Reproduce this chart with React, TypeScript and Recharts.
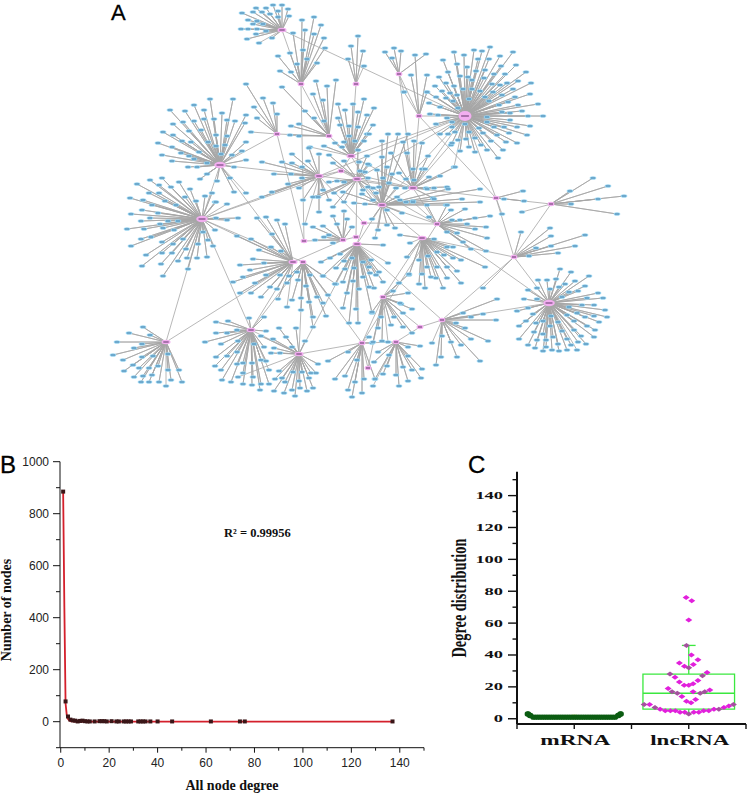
import React from "react";
import { ComposedChart, ScatterChart, Scatter, Line, XAxis, YAxis, ReferenceArea, ReferenceLine } from "recharts";

type P = [number, number];

// ---------- Panel A: network layout ----------
const hubs: Record<string, P> = {
  a: [282, 30], b: [301, 84], c: [356, 84], d: [399, 74], e: [419, 116], f: [465, 116], g: [220, 165], h: [277, 134],
  i: [329, 136], j: [351, 156], k: [319, 176], l: [341, 171], m: [357, 179], n: [413, 188], o: [382, 205], p: [496, 198],
  q: [551, 204], r: [202, 219], s: [166, 342], t: [251, 330], u: [299, 354], v: [293, 262], w: [303, 262], x: [304, 241],
  y: [343, 240], z: [356, 237], A: [357, 244], B: [364, 223], C: [362, 343], D: [368, 368], E: [437, 224], F: [422, 238],
  G: [514, 257], H: [549, 303], I: [442, 320], J: [420, 327], K: [383, 297], L: [396, 342],
};

const leavesA: P[] = [[282,5],[273,5],[256,8],[266,8],[288,9],[278,11],[242,13],[253,12],[262,12],[270,14],[289,16],[278,17],[248,20],[257,21],[263,24],[253,24],[241,29],[248,29],[257,29],[266,31],[247,39],[256,34],[272,38],[259,43]];
const leavesB: P[] = [[314,17],[302,20],[321,25],[293,33],[305,30],[314,34],[324,38],[325,48],[303,50],[290,53],[278,56],[307,59],[317,63],[297,64],[280,71],[291,72]];
const leavesC: P[] = [[358,36],[351,46],[363,51],[348,59],[364,66]];
const leavesD: P[] = [[385,52],[394,48],[401,51],[392,58],[426,54],[404,92]];
const leavesE: P[] = [[415,55],[411,75],[427,75],[427,92],[404,92]];
const leavesF: P[] = [[490,47],[474,50],[482,51],[454,52],[464,55],[513,52],[500,56],[443,60],[478,59],[489,59],[457,64],[501,66],[516,65],[467,67],[485,70],[476,71],[448,72],[494,74],[505,74],[526,72],[439,77],[460,76],[468,77],[484,78],[446,83],[472,80],[518,81],[531,83],[492,84],[500,85],[507,83],[454,86],[435,86],[463,89],[472,89],[513,89],[442,91],[450,93],[457,95],[480,91],[493,92],[502,95],[530,94],[427,92],[436,97],[446,98],[469,99],[485,97],[515,97],[453,101],[489,101],[499,105],[508,102],[538,104],[429,103],[440,107],[518,105],[458,108],[502,112],[522,111],[430,114],[438,115],[447,118],[487,117],[510,113],[528,116],[543,116],[510,120],[452,122],[436,124],[487,122],[494,127],[504,127],[517,127],[530,126],[465,124],[452,127],[479,128],[440,134],[448,134],[455,132],[469,132],[483,133],[497,135],[509,133],[527,135],[475,138],[458,140],[491,141],[466,139],[506,142],[517,143],[451,145],[481,145],[469,147],[487,150],[460,151],[503,150],[475,152],[498,158],[454,167]];
const leavesG: P[] = [[210,99],[233,99],[170,110],[185,111],[194,105],[204,110],[222,113],[214,119],[204,119],[194,121],[183,122],[173,124],[235,121],[245,123],[246,115],[227,120],[163,132],[173,135],[189,131],[201,130],[216,135],[227,136],[182,141],[191,142],[208,142],[158,143],[172,147],[181,153],[189,156],[199,152],[216,146],[225,145],[246,142],[242,151],[232,155],[221,154],[162,155],[172,161],[194,159],[246,160],[188,167],[197,167],[207,163],[234,167],[207,174],[200,179],[217,181],[230,178],[234,192],[246,193]];
const leavesH: P[] = [[246,84],[263,98],[273,103],[254,107],[277,114],[257,118],[251,132]];
const leavesI: P[] = [[282,87],[316,81],[327,86],[336,80],[313,94],[323,100],[305,111],[314,118],[324,121],[291,126],[299,124],[290,135],[299,136]];
const leavesJ: P[] = [[338,104],[345,110],[353,104],[364,99],[374,108],[367,115],[338,118],[358,112],[340,125],[349,126],[358,127],[373,125],[355,141],[344,142],[367,134],[335,143],[324,146],[342,147],[364,141],[369,134],[349,136],[310,147]];
const leavesK: P[] = [[309,148],[319,154],[292,154],[282,162],[292,163],[262,162],[274,174],[291,174],[302,178],[288,184],[299,188],[272,192],[262,197],[303,200],[308,161],[302,167],[323,190],[318,197],[329,200],[319,212],[305,224]];
const leavesM: P[] = [[329,155],[358,150],[367,156],[329,182],[337,181],[344,182],[334,193],[344,202],[333,207],[313,197],[318,197],[363,190],[373,188],[369,165],[365,172],[373,200],[368,164],[359,162],[344,161],[333,163],[368,178],[360,171]];
const leavesN: P[] = [[407,153],[428,156],[391,153],[414,141],[422,143],[403,142],[413,169],[422,169],[429,177],[440,176],[414,180],[426,188],[434,188],[405,188],[399,173],[406,179],[433,198],[427,189],[447,187],[455,167],[425,169],[452,143]];
const leavesO: P[] = [[388,134],[398,134],[408,134],[382,141],[382,157],[387,167],[392,174],[377,170],[383,178],[389,183],[379,187],[396,188],[397,197],[406,202],[413,201],[434,199],[446,205],[462,199],[480,202],[448,189],[480,189],[343,192],[362,194],[368,187],[354,203],[365,204],[372,219],[378,230],[387,225],[395,228],[387,210],[402,213],[400,200],[376,193],[375,238]];
const leavesP: P[] = [[523,191],[524,201],[504,199],[502,214]];
const leavesQ: P[] = [[593,178],[608,186],[624,196],[570,191],[598,199],[571,204],[617,214],[522,212]];
const leavesR: P[] = [[162,178],[150,180],[137,184],[159,185],[179,182],[171,187],[149,193],[159,193],[190,189],[185,197],[130,198],[143,200],[165,201],[196,201],[205,196],[212,193],[176,205],[131,214],[142,210],[152,205],[158,213],[141,221],[150,218],[168,221],[160,224],[178,221],[127,229],[144,229],[163,228],[174,230],[141,239],[151,237],[131,246],[162,242],[183,239],[173,244],[186,249],[146,255],[162,253],[172,253],[187,258],[178,261],[197,258],[207,257],[142,266],[161,264],[188,269],[163,276],[198,244],[208,240],[213,246],[203,232],[215,230],[216,218],[227,220],[238,218],[215,202],[216,202],[227,204]];
const leavesS: P[] = [[143,327],[129,333],[150,335],[117,342],[142,344],[134,348],[113,355],[168,354],[142,357],[153,356],[123,360],[133,365],[158,366],[124,371],[139,368],[149,368],[168,370],[179,370],[143,376],[134,377],[152,375],[141,382],[149,382],[159,382],[171,380],[182,382],[166,386]];
const leavesT: P[] = [[216,322],[228,321],[216,333],[227,333],[237,330],[205,342],[221,344],[238,341],[249,318],[264,317],[266,331],[254,344],[264,347],[237,352],[227,356],[216,357],[215,366],[221,370],[237,364],[243,363],[252,363],[261,360],[266,361],[222,380],[231,382],[243,384],[243,373],[253,377],[252,385],[261,384],[260,390],[269,384],[269,370]];
const leavesU: P[] = [[279,328],[296,328],[286,337],[273,339],[305,341],[261,336],[274,348],[292,347],[280,353],[271,353],[318,364],[279,371],[293,372],[302,372],[311,373],[316,373],[275,379],[282,378],[309,378],[285,382],[299,381],[300,388],[274,391],[284,393],[292,390],[307,391],[313,388],[295,396],[238,377]];
const leavesV: P[] = [[257,218],[266,217],[277,220],[272,234],[285,224],[237,236],[251,239],[259,250],[271,247],[281,251],[253,259],[240,265],[264,263],[250,270],[243,277],[233,282],[255,283],[266,275],[280,275],[270,287],[277,289],[240,293],[251,293],[261,297],[278,299],[287,307]];
const leavesW: P[] = [[289,276],[287,283],[292,300],[301,298],[309,302],[301,310],[313,317],[306,286],[298,280],[317,297],[328,295],[323,303],[326,316],[313,327],[297,272],[310,275],[323,276],[336,284]];
const leavesY: P[] = [[333,216],[344,211],[313,227],[323,226],[337,224],[347,219],[352,227],[329,235],[315,240],[324,237],[333,243]];
const leavesAA: P[] = [[343,308],[356,309],[349,323],[358,323],[347,293],[359,289],[369,287],[343,282],[353,281],[363,277],[345,269],[354,268],[336,268],[344,261],[352,258],[363,262],[371,260],[369,267],[376,275],[374,288],[372,313],[383,245],[321,262],[330,258],[340,254],[323,276],[335,284],[370,273],[379,272],[383,282],[388,263]];
const leavesCC: P[] = [[348,352],[328,361],[357,360],[345,376],[335,379],[355,382],[348,390],[362,393],[352,397],[364,379],[375,379],[372,343],[369,337]];
const leavesE2: P[] = [[447,205],[451,210],[460,220],[465,209],[475,218],[490,216],[467,224],[486,227],[475,229],[487,238],[463,242],[471,249],[486,251],[447,232],[452,220],[457,233],[429,217],[427,205],[413,202]];
const leavesF2: P[] = [[407,257],[419,260],[428,256],[437,252],[444,255],[453,258],[461,260],[427,267],[437,267],[447,267],[457,271],[422,274],[409,275],[431,277],[436,278],[447,278],[461,283],[419,284],[425,288],[443,288],[434,239],[447,247],[453,247],[485,267],[400,235],[410,243]];
const leavesG2: P[] = [[585,235],[575,246],[551,246],[536,248],[558,253],[529,256],[521,232],[550,228],[551,236],[483,288]];
const leavesH2: P[] = [[560,269],[571,272],[589,276],[538,280],[547,280],[556,279],[565,284],[575,281],[585,286],[528,290],[537,288],[550,289],[559,287],[569,292],[578,291],[598,293],[524,299],[537,299],[562,297],[587,298],[603,298],[528,308],[517,311],[533,314],[569,307],[582,305],[594,305],[605,310],[577,313],[551,316],[585,317],[594,316],[607,317],[526,321],[543,321],[558,322],[567,315],[574,321],[599,322],[519,326],[536,323],[550,326],[587,326],[534,332],[543,334],[562,331],[574,330],[595,330],[581,336],[519,339],[537,340],[553,337],[567,339],[578,342],[594,337],[528,345],[546,340],[558,344],[571,345],[586,344],[535,348],[546,347],[543,351],[552,350],[559,351],[567,350],[577,350]];
const leavesI2: P[] = [[497,299],[483,314],[471,317],[463,313],[456,323],[465,328],[496,320],[471,339],[488,341],[461,345],[451,342],[442,336],[457,357],[441,357],[480,361],[436,365],[432,343]];
const leavesK2: P[] = [[399,283],[408,293],[393,291],[401,304],[412,309],[394,317],[403,313],[391,325],[381,317],[403,327],[412,333],[382,341],[373,342],[400,303],[372,312],[409,274],[378,328],[388,342]];
const leavesL2: P[] = [[420,346],[408,347],[389,355],[408,356],[378,352],[374,362],[387,366],[403,367],[412,370],[422,369],[396,375],[421,378],[383,374],[408,381],[375,379],[399,386],[373,386]];

const stars: [string, P[]][] = [
  ["a", leavesA], ["b", leavesB], ["c", leavesC], ["d", leavesD], ["e", leavesE], ["f", leavesF], ["g", leavesG], ["h", leavesH],
  ["i", leavesI], ["j", leavesJ], ["k", leavesK], ["m", leavesM], ["n", leavesN], ["o", leavesO], ["p", leavesP], ["q", leavesQ],
  ["r", leavesR], ["s", leavesS], ["t", leavesT], ["u", leavesU], ["v", leavesV], ["w", leavesW], ["y", leavesY], ["A", leavesAA], ["C", leavesCC],
  ["E", leavesE2], ["F", leavesF2], ["G", leavesG2], ["H", leavesH2], ["I", leavesI2], ["K", leavesK2], ["L", leavesL2],
];

const crossEdges = ["af","ab","bx","bi","cj","dn","de","ef","en","fn","fo","fm","fk","fp","ep","pG","qp","qG","GH","EH","FG","GI","IH","AI","JI","LJ","KJ","wC","vt","wt","vs","rs","gv","rv","rw","rt","rk","rl","gk","gh","gr","ut","uC","uw","uA","CK","CL","CE","DC","DK","xh","xy","yz","yv","BE","BA","Bk","oE","oF","oA","om","no","nE","nm","np","nj","kl","lm","jl","ij","ih","kn","FK","zm","fj","ln","mE","jo"];

// ---------- Panel B ----------
const degreeX = [1,2,3,4,5,6,7,8,9,10,11,12,14,16,17,18,19,21,23,24,26,27,28,29,32,33,34,35,37,40,46,62,74,76,137];
const nodeCount = [885,78,20,8,5,4,1,3,4,2,1,1,1,2,2,2,1,2,1,1,1,1,1,1,1,1,1,1,1,1,1,1,1,1,1];
const fitX = [1,1.5,2,2.5,3,3.5,4,5,7,20,137];
const fitY = [885,440,70,25,10,5,2,1,0,0,0];
const bTicksX = [0,10,20,30,40,50,60,70,80,90,100,110,120,130,140,150];
const bTicksY = [-100,0,100,200,300,400,500,600,700,800,900,1000];
const bPoints = degreeX.map((x, i) => ({ x, y: nodeCount[i] }));
const bFit = fitX.map((x, i) => ({ x, y: fitY[i] }));

// ---------- Panel C ----------
const cTicksY = [0,10,20,30,40,50,60,70,80,90,100,110,120,130,140,150];
const cTicksX = [0.5,1,1.5,2,2.5];
const mrnaX = [0.59,0.6,0.61,0.62,0.64,0.66,0.68,0.7,0.72,0.74,0.76,0.78,0.8,0.82,0.84,0.86,0.88,0.9,0.92,0.94,0.96,0.98,1,1.02,1.04,1.06,1.08,1.1,1.12,1.14,1.16,1.18,1.2,1.22,1.24,1.26,1.28,1.3,1.32,1.34,1.36,1.38,1.39,1.4,1.41];
const mrnaY = [3,3,2,2,1,1,1,1,1,1,1,1,1,1,1,1,1,1,1,1,1,1,1,1,1,1,1,1,1,1,1,1,1,1,1,1,1,1,1,1,1,2,2,3,3];
const lncBright: P[] = [[1.977,76],[2.026,74],[2,62],[2.023,40],[2.08,37],[1.918,35],[1.962,33],[2.04,34],[2.16,29],[1.88,26],[2.08,24],[1.918,23],[2.038,22],[1.96,21],[2,21],[1.82,19],[2.184,18],[2.038,17],[1.94,14],[2.06,12],[1.98,11],[2.02,10],[1.658,9],[2.35,8],[2.307,7],[2.22,6],[1.75,6],[1.795,5],[1.84,5],[1.883,5],[1.924,4],[1.965,4],[2.044,4],[2.088,4],[2.13,5],[2.175,5]];
const lncMuted: P[] = [[1.98,46],[2,32],[1.836,28],[2.12,27],[1.854,17],[2.14,17],[1.9,16],[2.1,16],[1.61,9],[2.39,9],[1.705,7],[2.263,6],[2,3]];
const lncBox = { q1: 6, median: 16, q3: 28, low: 3, high: 46, left: 1.6, right: 2.4, capLeft: 1.94, capRight: 2.06 };
const mrnaBox = { q1: 1, q3: 2.2, left: 0.98, right: 1.02 };

const serif = "'Liberation Serif', serif";
const sans = "'Liberation Sans', sans-serif";
const nodeLeaf = (p: any) => (
  <g>
    <ellipse cx={p.cx} cy={p.cy} rx={3.3} ry={1.8} fill="#98d3ef" />
    <rect x={p.cx - 2.1} y={p.cy - 0.55} width={4.2} height={1.1} fill="#4a87b0" />
  </g>
);
const hubShape = (p: any) => {
  const n = p.payload.n;
  const rx = n > 80 ? 6.5 : n > 45 ? 5.8 : n > 20 ? 4.5 : 3.4;
  const ry = n > 80 ? 5 : n > 45 ? 3.2 : 2.2;
  return (
    <g>
      <ellipse cx={p.cx} cy={p.cy} rx={rx} ry={ry} fill="#f2aef0" />
      <rect x={p.cx - rx * 0.6} y={p.cy - 0.6} width={rx * 1.2} height={1.2} fill="#7a4a80" />
    </g>
  );
};
const noMark = () => <g />;
const toPt = ([x, y]: P) => ({ x, y });
const edgeLine = { stroke: "#a6a6a6", strokeWidth: 0.8, strokeLinejoin: "round" as const, strokeLinecap: "round" as const };

const starData = (hub: P, leaves: P[]) => leaves.flatMap((l) => [toPt(hub), toPt(l)]);
const allLeaves = stars.flatMap(([, l]) => l).map(toPt);
const hubPoints = Object.entries(hubs).map(([k, h]) => ({ x: h[0], y: h[1], n: (stars.find((s) => s[0] === k)?.[1] ?? []).length }));

const BTickX = ({ x, y, payload }: any) => {
  const major = payload.value % 20 === 0;
  return (
    <g>
      <line x1={x} x2={x} y1={y} y2={y + (major ? 5 : 3)} stroke="#111" strokeWidth={1} />
      {major && payload.value <= 140 ? (
        <text x={x} y={y + 19} textAnchor="middle" fontFamily={sans} fontSize={12} fill="#222">{payload.value}</text>
      ) : null}
    </g>
  );
};
const BTickY = ({ x, y, payload }: any) => {
  const major = payload.value % 200 === 0;
  return (
    <g>
      <line x1={x} x2={x - (major ? 7 : 4)} y1={y} y2={y} stroke="#111" strokeWidth={1} />
      {major ? (
        <text x={x - 11} y={y + 4} textAnchor="end" fontFamily={sans} fontSize={12} fill="#222">{payload.value}</text>
      ) : null}
    </g>
  );
};
const CTickY = ({ x, y, payload }: any) => {
  const major = payload.value % 20 === 0;
  const s = String(payload.value);
  return (
    <g>
      <line x1={x} x2={x - (major ? 9 : 4.5)} y1={y} y2={y} stroke="#111" strokeWidth={1.4} />
      {major && payload.value < 150 ? (
        <text x={x - 14 - s.length * 9.2} y={y + 3.5} fontFamily={serif} fontWeight="bold" fontSize={10.5} fill="#111" textLength={s.length * 9.2} lengthAdjust="spacingAndGlyphs">{s}</text>
      ) : null}
    </g>
  );
};
const CTickX = ({ x, y, payload }: any) => {
  const label = payload.value === 1 ? "mRNA" : payload.value === 2 ? "lncRNA" : "";
  const w = payload.value === 1 ? 70 : 79;
  return (
    <g>
      <line x1={x} x2={x} y1={y} y2={y + 5} stroke="#111" strokeWidth={1.4} />
      {label ? (
        <text x={x - w / 2 + 1} y={y + 21} fontFamily={serif} fontWeight="bold" fontSize={15} fill="#111" textLength={w} lengthAdjust="spacingAndGlyphs">{label}</text>
      ) : null}
    </g>
  );
};
const abs = (left: number, top: number): React.CSSProperties => ({ position: "absolute", left, top });
const Letter = ({ x, y, t, size = 24 }: { x: number; y: number; t: string; size?: number }) => (
  <div style={{ ...abs(x, y), fontFamily: sans, fontSize: size, lineHeight: "normal", color: "#000", WebkitTextStroke: "0.3px #000" }}>{t}</div>
);
const square = (p: any) => <rect x={p.cx - 2} y={p.cy - 2} width={4} height={4} fill="#3a1618" />;
const diamond = (color: string) => (p: any) => (
  <path d={`M${p.cx} ${p.cy - 2.5}L${p.cx + 3.5} ${p.cy}L${p.cx} ${p.cy + 2.5}L${p.cx - 3.5} ${p.cy}Z`} fill={color} />
);
const greenDot = (p: any) => <circle cx={p.cx} cy={p.cy} r={2.7} fill="#0b5c12" />;

const bXTitle = () => (
  <text x={232} y={340} textAnchor="middle" fontFamily={serif} fontWeight="bold" fontSize={14} fill="#111">All node degree</text>
);
const bYTitle = () => (
  <text transform="translate(11,160) rotate(-90)" textAnchor="middle" fontFamily={serif} fontWeight="bold" fontSize={14} fill="#111">Number of nodes</text>
);
const cYTitle = () => (
  <text transform="translate(26,148) rotate(-90)" textAnchor="middle" fontFamily={serif} fontWeight="bold" fontSize={21} fill="#111" textLength={119} lengthAdjust="spacingAndGlyphs">Degree distribution</text>
);

export default function App() {
  return (
    <div style={{ position: "absolute", left: 0, top: 0, width: 750, height: 796, background: "#fff", overflow: "hidden" }}>
      <ScatterChart width={750} height={410} margin={{ top: 0, right: 0, bottom: 0, left: 0 }} style={abs(0, 0)}>
        <XAxis type="number" dataKey="x" domain={[0, 750]} hide />
        <YAxis type="number" dataKey="y" domain={[0, 410]} reversed hide />
        {stars.map(([k, l]) => (
          <Scatter key={k} data={starData(hubs[k], l)} line={edgeLine} shape={noMark} isAnimationActive={false} />
        ))}
        {crossEdges.map((e, i) => (
          <Scatter key={i} data={[toPt(hubs[e[0]]), toPt(hubs[e[1]])]} line={edgeLine} shape={noMark} isAnimationActive={false} />
        ))}
        <Scatter data={allLeaves} shape={nodeLeaf} isAnimationActive={false} />
        <Scatter data={hubPoints} shape={hubShape} isAnimationActive={false} />
      </ScatterChart>
      <Letter x={111} y={0} t="A" size={22} />

      <ComposedChart width={430} height={346} margin={{ top: 11.7, right: 6, bottom: 0, left: 0 }} style={abs(0, 450)}>
        <XAxis type="number" dataKey="x" domain={[-0.3, 150]} ticks={bTicksX} interval={0} height={48.3} tickSize={0} tickMargin={0} tickLine={false} stroke="#111" tick={BTickX} label={bXTitle} />
        <YAxis type="number" dataKey="y" domain={[-100, 1000]} ticks={bTicksY} interval={0} width={60} tickSize={0} tickMargin={0} tickLine={false} stroke="#111" tick={BTickY} label={bYTitle} />
        <Line data={bFit} dataKey="y" type="linear" stroke="#d4202c" strokeWidth={1.8} dot={false} isAnimationActive={false} />
        <Scatter data={bPoints} shape={square} isAnimationActive={false} />
      </ComposedChart>
      <Letter x={0} y={451} t="B" />
      <div style={{ ...abs(224, 526), fontFamily: serif, fontWeight: "bold", fontSize: 12.5, lineHeight: "14px", color: "#111" }}>R² = 0.99956</div>

      <ScatterChart width={310} height={346} margin={{ top: 21.7, right: 4, bottom: 0, left: 0 }} style={abs(440, 450)}>
        <XAxis type="number" dataKey="x" domain={[0.5, 2.5]} ticks={cTicksX} interval={0} height={72} tickSize={0} tickMargin={0} tickLine={false} stroke="#111" strokeWidth={2} tick={CTickX} />
        <YAxis type="number" dataKey="y" domain={[-3.3, 155]} ticks={cTicksY} interval={0} width={77} tickSize={0} tickMargin={0} tickLine={false} stroke="#111" strokeWidth={2} tick={CTickY} label={cYTitle} />
        <Scatter data={mrnaX.map((x, i) => ({ x, y: mrnaY[i] }))} shape={greenDot} isAnimationActive={false} />
        <ReferenceArea x1={mrnaBox.left} x2={mrnaBox.right} y1={mrnaBox.q1} y2={mrnaBox.q3} fill="none" stroke="#d9e25a" strokeWidth={1} />
        <Scatter data={lncBright.map(toPt)} shape={diamond("#e21fdc")} isAnimationActive={false} />
        <Scatter data={lncMuted.map(toPt)} shape={diamond("#a5509f")} isAnimationActive={false} />
        <ReferenceArea x1={lncBox.left} x2={lncBox.right} y1={lncBox.q1} y2={lncBox.q3} fill="none" stroke="#3be83f" strokeWidth={1.3} />
        <ReferenceLine segment={[{ x: lncBox.left, y: lncBox.median }, { x: lncBox.right, y: lncBox.median }]} stroke="#3be83f" strokeWidth={1.3} />
        <ReferenceLine segment={[{ x: 2, y: lncBox.q3 }, { x: 2, y: lncBox.high }]} stroke="#3be83f" strokeWidth={1.3} />
        <ReferenceLine segment={[{ x: lncBox.capLeft, y: lncBox.high }, { x: lncBox.capRight, y: lncBox.high }]} stroke="#3be83f" strokeWidth={1.3} />
        <ReferenceLine segment={[{ x: 2, y: lncBox.low }, { x: 2, y: lncBox.q1 }]} stroke="#3be83f" strokeWidth={1.3} />
      </ScatterChart>
      <Letter x={468} y={451} t="C" />
    </div>
  );
}
